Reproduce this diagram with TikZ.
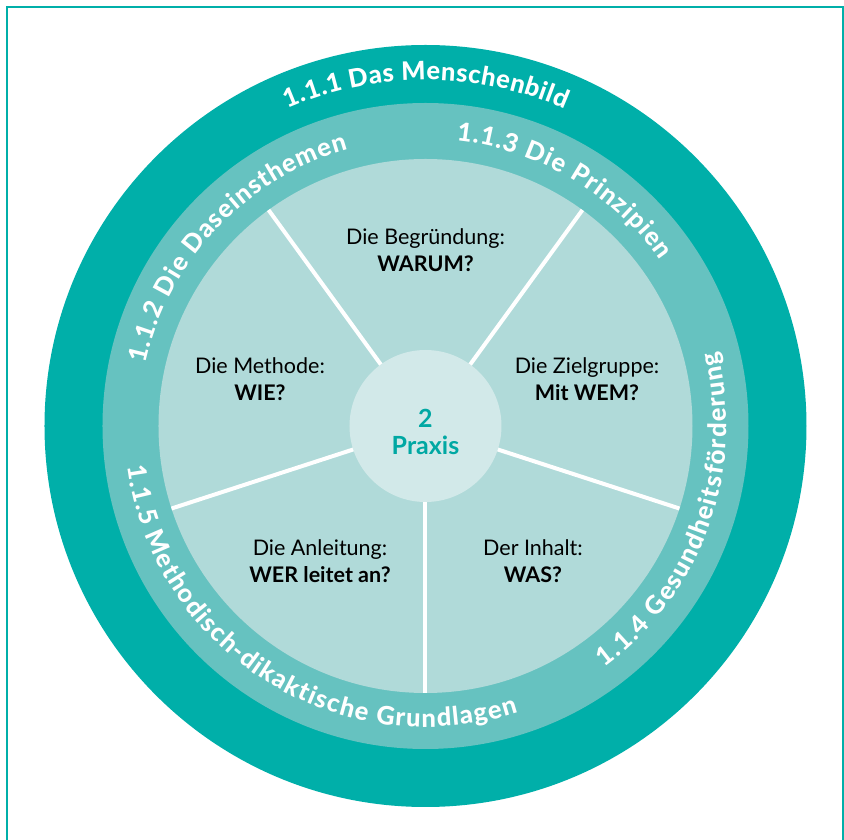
\documentclass[tikz,border=0pt]{standalone}
\usepackage{fontspec}
\setmainfont{Lato}
\newfontfamily\ringface{Lato Heavy}
\usetikzlibrary{decorations.text}

\definecolor{tealdark}{HTML}{00AFA9}
\definecolor{tealmid}{HTML}{66C2C0}
\definecolor{teallight}{HTML}{B0DAD9}
\definecolor{tealpale}{HTML}{D2E9E9}
\definecolor{tealtext}{HTML}{00A8A3}

\newcommand\ringfont{\ringface\fontsize{25.5}{30}\selectfont}

\tikzset{
  ringtext/.style={decorate, decoration={text effects along path,
      text={#1}, text align=center, text effects/.cd,
      text along path,
      characters={text=white, font=\ringfont, inner xsep=\ringsep},
      character widths={font=\ringfont, inner xsep=\ringsep}}}
}
% text running clockwise (letters upright on top), centred at angle #1
\newcommand\ringcw[4]{%
  \def\ringsep{#4}%
  \path[ringtext={#3}]
    ({#1+90}:#2) arc[start angle={#1+90}, end angle={#1-90}, radius=#2];}
% text running counterclockwise (letters facing the hub), centred at angle #1
\newcommand\ringccw[4]{%
  \def\ringsep{#4}%
  \path[ringtext={#3}]
    ({#1-90}:#2) arc[start angle={#1-90}, end angle={#1+90}, radius=#2];}

\begin{document}
\begin{tikzpicture}[
  x=1pt, y=1pt,
  frame/.style={draw=tealdark, line width=2pt},
  spoke/.style={draw=white, line width=4pt},
  label/.style={align=center, font=\fontsize{21.5}{27}\selectfont, text=black},
  hub/.style={circle, fill=tealpale, minimum size=152pt, inner sep=0pt},
  hubtext/.style={align=center, text=tealtext,
                  font=\fontsize{25}{26.5}\selectfont\bfseries}
]
  \useasboundingbox (-425.5,-414) rectangle (418.5,426);
  \draw[frame] (-418.5,419) rectangle (417,-430);

  % Rings
  \fill[tealdark] (0,0) circle[radius=381];
  \fill[tealmid] (0,0) circle[radius=323];
  \fill[teallight] (0,0) circle[radius=267];

  % Spokes between the five questions
  \foreach \a in {54,126,198,270,342}
    \draw[spoke] (0,0) -- (\a:267);

  % Hub
  \node[hub] (hub) at (0,0) {};
  \node[hubtext] (praxis) at (0,-6) {2\\Praxis};

  % Questions
  \node[label] (warum) at (0,176) {Die Begründung:\\\textbf{WARUM?}};
  \node[label] (wie) at (-165.5,47) {Die Methode:\\\textbf{WIE?}};
  \node[label] (wem) at (161.5,47) {Die Zielgruppe:\\\textbf{Mit WEM?}};
  \node[label] (wer) at (-105.5,-135.5) {Die Anleitung:\\\textbf{WER leitet an?}};
  \node[label] (was) at (107.5,-135.5) {Der Inhalt:\\\textbf{WAS?}};

  % Ring titles
  \ringcw{89.9}{346}{1.1.1 Das Menschenbild}{0.27pt}
  \ringcw{136.5}{287}{1.1.2 Die Daseinsthemen}{0.55pt}
  \ringcw{59.5}{287}{1.1.3 Die Prinzipien}{0.55pt}
  \ringccw{-19.5}{301}{1.1.4 Gesundheitsförderung}{0.75pt}
  \ringccw{237.8}{301}{1.1.5 Methodisch-dikaktische Grundlagen}{0.65pt}
\end{tikzpicture}
\end{document}
